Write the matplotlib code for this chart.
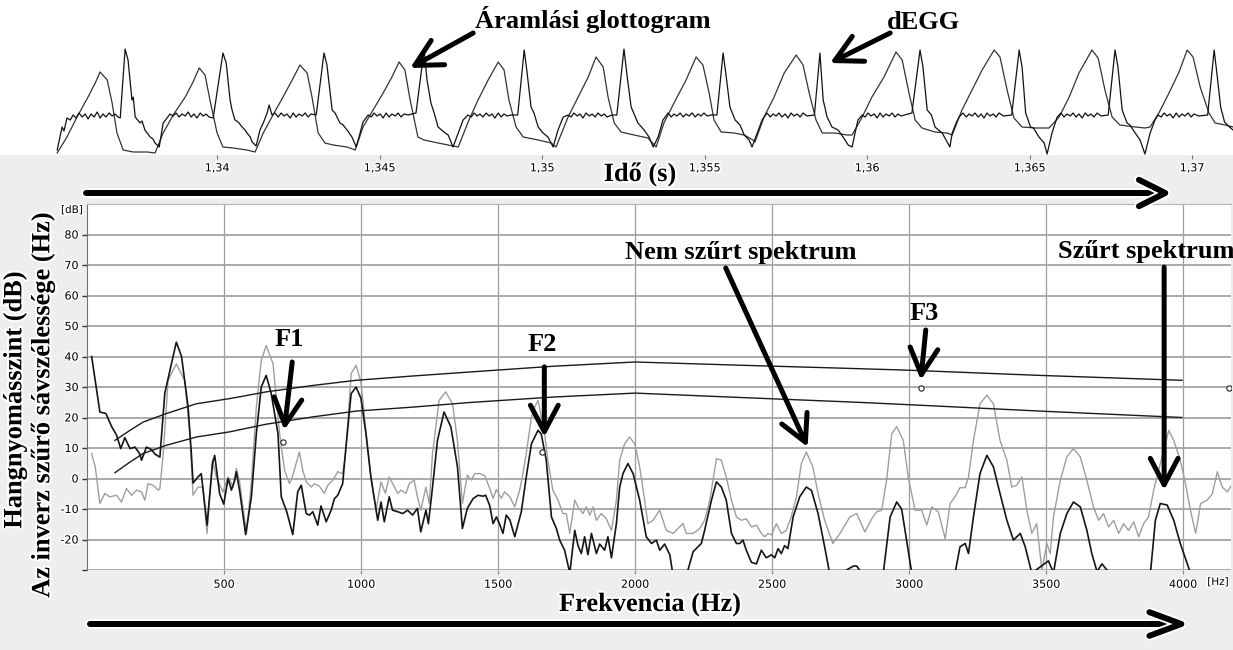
import numpy as np
import matplotlib
matplotlib.use("Agg")
import matplotlib.pyplot as plt
import matplotlib.patheffects as pe
from matplotlib.patches import FancyArrowPatch

# ---- top panel: glottal flow and dEGG (time in ms, amplitude arbitrary) ----
glotto = [
    (1335.08, 2), (1335.38, 18), (1335.69, 38), (1336.03, 58), (1336.25, 72), (1336.40, 83), (1336.62, 75),
    (1336.77, 52), (1336.92, 22), (1337.11, 5), (1337.42, 3), (1337.85, 3), (1338.09, 2),
    (1338.34, 22), (1338.65, 40), (1339.02, 58), (1339.26, 73), (1339.45, 87), (1339.63, 80), (1339.78, 55),
    (1340.00, 22), (1340.18, 8), (1340.49, 7), (1340.92, 5), (1341.17, 3),
    (1341.42, 22), (1341.72, 40), (1342.03, 58), (1342.31, 75), (1342.55, 90), (1342.77, 82), (1342.92, 58),
    (1343.11, 22), (1343.32, 12), (1343.57, 10), (1344.00, 8), (1344.25, 5),
    (1344.49, 28), (1344.80, 45), (1345.11, 62), (1345.38, 78), (1345.60, 93), (1345.78, 85), (1345.94, 55),
    (1346.18, 18), (1346.37, 15), (1346.80, 12), (1347.11, 10), (1347.42, 8),
    (1347.75, 35), (1348.03, 55), (1348.34, 75), (1348.65, 93), (1348.83, 85), (1348.98, 55), (1349.20, 28),
    (1349.42, 18), (1349.88, 15), (1350.28, 12), (1350.43, 8),
    (1350.80, 38), (1351.11, 58), (1351.42, 78), (1351.66, 98), (1351.88, 88), (1352.03, 58), (1352.22, 32),
    (1352.43, 23), (1352.83, 20), (1353.26, 17), (1353.51, 8),
    (1353.75, 32), (1354.06, 52), (1354.43, 75), (1354.74, 98), (1354.95, 90), (1355.14, 62), (1355.29, 35),
    (1355.51, 23), (1355.91, 22), (1356.22, 20), (1356.49, 15), (1356.55, 13),
    (1356.83, 38), (1357.14, 58), (1357.45, 82), (1357.82, 100), (1358.03, 90), (1358.22, 62), (1358.43, 35),
    (1358.62, 22), (1359.02, 22), (1359.38, 20), (1359.54, 20),
    (1359.85, 38), (1360.15, 58), (1360.52, 78), (1360.89, 103), (1361.08, 95), (1361.29, 62), (1361.48, 35),
    (1361.69, 27), (1362.09, 23), (1362.46, 22), (1362.62, 20),
    (1362.92, 45), (1363.23, 65), (1363.54, 85), (1363.91, 105), (1364.09, 98), (1364.31, 65), (1364.52, 37),
    (1364.77, 28), (1365.17, 27), (1365.60, 27),
    (1365.91, 38), (1366.22, 58), (1366.52, 82), (1366.92, 105), (1367.11, 97), (1367.32, 65), (1367.54, 38),
    (1367.78, 30), (1368.25, 28), (1368.55, 27), (1368.71, 28),
    (1368.98, 42), (1369.29, 62), (1369.60, 83), (1369.85, 105), (1370.03, 98), (1370.25, 68), (1370.52, 42),
    (1370.71, 32), (1371.02, 30), (1371.26, 28),
]

degg = [
    (1335.08, 5), (1335.23, 28), (1335.29, 24), (1335.38, 37), (1335.48, 35), (1335.57, 40), (1335.66, 37),
    (1335.75, 42), (1335.85, 38), (1335.94, 41), (1336.03, 36), (1336.12, 41), (1336.22, 38), (1336.31, 43),
    (1336.40, 37), (1336.49, 41), (1336.58, 38), (1336.68, 42), (1336.77, 39), (1336.86, 41), (1336.95, 38),
    (1337.02, 37),
    (1337.17, 106), (1337.26, 95), (1337.38, 55), (1337.42, 58), (1337.48, 38), (1337.63, 32), (1337.69, 34),
    (1337.78, 25), (1337.94, 18), (1338.03, 16), (1338.09, 12), (1338.22, 8), (1338.34, 32), (1338.46, 37),
    (1338.55, 41), (1338.65, 39), (1338.74, 42), (1338.83, 38), (1338.92, 41), (1339.02, 39), (1339.11, 43),
    (1339.20, 38), (1339.29, 41), (1339.38, 37), (1339.48, 42), (1339.57, 39), (1339.66, 41), (1339.75, 38),
    (1339.88, 37),
    (1340.18, 102), (1340.28, 92), (1340.40, 55), (1340.46, 45), (1340.55, 35), (1340.65, 33), (1340.77, 28),
    (1340.86, 25), (1340.92, 22), (1341.02, 18), (1341.08, 13), (1341.20, 9), (1341.32, 25), (1341.42, 32),
    (1341.54, 42), (1341.60, 50), (1341.69, 40), (1341.78, 42), (1341.88, 38), (1341.97, 42), (1342.06, 39),
    (1342.15, 41), (1342.25, 37), (1342.34, 42), (1342.43, 38), (1342.52, 41), (1342.62, 39), (1342.71, 42),
    (1342.80, 38), (1342.89, 41), (1343.05, 40),
    (1343.29, 102), (1343.38, 90), (1343.54, 45), (1343.63, 42), (1343.78, 32), (1343.88, 30), (1344.00, 25),
    (1344.15, 18), (1344.28, 8), (1344.40, 22), (1344.49, 33), (1344.65, 40), (1344.74, 38), (1344.83, 42),
    (1344.92, 39), (1345.02, 41), (1345.11, 37), (1345.20, 42), (1345.29, 38), (1345.38, 41), (1345.48, 39),
    (1345.57, 42), (1345.66, 38), (1345.75, 41), (1345.88, 40), (1346.12, 42),
    (1346.37, 105), (1346.46, 75), (1346.58, 52), (1346.68, 42), (1346.80, 28), (1347.02, 22), (1347.11, 20),
    (1347.26, 8), (1347.42, 22), (1347.57, 35), (1347.72, 40), (1347.82, 38), (1347.91, 42), (1348.00, 39),
    (1348.09, 41), (1348.18, 38), (1348.28, 42), (1348.37, 39), (1348.46, 41), (1348.55, 37), (1348.65, 42),
    (1348.74, 38), (1348.83, 41), (1348.92, 39), (1349.05, 40), (1349.25, 40),
    (1349.45, 105), (1349.54, 82), (1349.66, 48), (1349.75, 42), (1349.88, 28), (1350.03, 22), (1350.18, 18),
    (1350.34, 8), (1350.49, 25), (1350.65, 38), (1350.80, 40), (1350.89, 38), (1350.98, 42), (1351.08, 39),
    (1351.17, 41), (1351.26, 37), (1351.35, 42), (1351.45, 39), (1351.54, 41), (1351.63, 38), (1351.72, 42),
    (1351.82, 39), (1351.91, 41), (1352.00, 38), (1352.15, 40), (1352.30, 40),
    (1352.52, 106), (1352.62, 78), (1352.74, 48), (1352.95, 32), (1353.14, 25), (1353.29, 18), (1353.42, 8),
    (1353.57, 18), (1353.72, 35), (1353.88, 42), (1353.97, 38), (1354.06, 41), (1354.15, 39), (1354.25, 42),
    (1354.34, 38), (1354.43, 41), (1354.52, 39), (1354.62, 42), (1354.71, 38), (1354.80, 41), (1354.89, 39),
    (1354.98, 42), (1355.08, 39), (1355.20, 40), (1355.38, 40),
    (1355.57, 102), (1355.66, 80), (1355.78, 48), (1355.94, 35), (1356.09, 30), (1356.22, 20), (1356.37, 15),
    (1356.46, 8), (1356.62, 22), (1356.77, 35), (1356.92, 42), (1357.02, 38), (1357.11, 41), (1357.20, 39),
    (1357.29, 42), (1357.38, 38), (1357.48, 41), (1357.57, 37), (1357.66, 42), (1357.75, 39), (1357.85, 41),
    (1357.94, 38), (1358.03, 42), (1358.15, 39), (1358.38, 40),
    (1358.55, 102), (1358.65, 55), (1358.77, 38), (1358.92, 28), (1359.11, 25), (1359.26, 18), (1359.42, 10),
    (1359.54, 8), (1359.63, 22), (1359.72, 35), (1359.85, 40), (1359.94, 38), (1360.03, 42), (1360.12, 39),
    (1360.22, 41), (1360.31, 37), (1360.40, 42), (1360.49, 38), (1360.58, 41), (1360.68, 39), (1360.77, 42),
    (1360.86, 38), (1360.95, 41), (1361.05, 39), (1361.15, 40), (1361.38, 42),
    (1361.63, 105), (1361.72, 88), (1361.85, 45), (1361.98, 40), (1362.09, 28), (1362.31, 22), (1362.43, 15),
    (1362.55, 8), (1362.62, 22), (1362.74, 32), (1362.83, 38), (1362.95, 42), (1363.05, 38), (1363.14, 41),
    (1363.23, 39), (1363.32, 42), (1363.42, 38), (1363.51, 41), (1363.60, 37), (1363.69, 42), (1363.78, 39),
    (1363.88, 41), (1363.97, 38), (1364.06, 42), (1364.20, 39), (1364.45, 40),
    (1364.68, 105), (1364.77, 88), (1364.88, 42), (1365.03, 28), (1365.12, 27), (1365.29, 18), (1365.45, 12),
    (1365.54, 1), (1365.69, 22), (1365.85, 38), (1365.97, 42), (1366.06, 38), (1366.15, 41), (1366.25, 39),
    (1366.34, 42), (1366.43, 38), (1366.52, 41), (1366.62, 37), (1366.71, 42), (1366.80, 39), (1366.89, 41),
    (1366.98, 38), (1367.08, 42), (1367.20, 39), (1367.42, 40),
    (1367.63, 105), (1367.72, 88), (1367.85, 45), (1368.00, 32), (1368.09, 30), (1368.25, 22), (1368.40, 15),
    (1368.55, 1), (1368.71, 22), (1368.86, 35), (1368.95, 40), (1369.05, 38), (1369.14, 42), (1369.23, 39),
    (1369.32, 41), (1369.42, 37), (1369.51, 42), (1369.60, 38), (1369.69, 41), (1369.78, 39), (1369.88, 42),
    (1369.97, 38), (1370.06, 41), (1370.20, 39), (1370.48, 40),
    (1370.68, 105), (1370.77, 80), (1370.88, 48), (1371.00, 33), (1371.15, 28), (1371.26, 25),
]

time_ticks = [1.34, 1.345, 1.35, 1.355, 1.36, 1.365, 1.37]
time_labels = ["1,34", "1,345", "1,35", "1,355", "1,36", "1,365", "1,37"]

# ---- bottom panel: spectra (Hz, dB) ----
filtered = [
    (17, 40), (47, 21.8), (69, 21.3), (90, 17), (108, 14.2), (123, 9.8), (138, 13.4), (157, 9.8), (175, 10.3),
    (193, 8), (199, 6), (217, 10.3), (235, 9.5), (248, 8), (266, 7), (284, 28), (326, 44.7), (345, 40),
    (369, 23.4), (381, 8), (387, -1.5), (405, 0.5), (417, 1.6), (438, -15.3), (458, 4.9), (466, 7.6),
    (484, -5), (499, -8.4), (515, 0), (527, -3.8), (539, -0.6), (545, 2.2), (557, -4), (579, -18.4),
    (600, -6), (618, 14.7), (636, 30), (654, 33.8), (672, 28), (697, 14.7), (709, -6), (729, -10.9),
    (751, -18.4), (769, -4.4), (782, -2.2), (800, -11.5), (812, -12), (824, -10.9), (842, -15.3), (854, -9),
    (873, -14.2), (891, -10.4), (903, -6.6), (915, -5.5), (933, -1.7), (945, 10.3), (964, 27.8), (982, 30),
    (1000, 26.2), (1018, 14.7), (1036, 0.5), (1061, -13.7), (1073, -7.7), (1085, -14.2), (1103, -6),
    (1115, -10.4), (1134, -10.9), (1152, -11.5), (1170, -10.4), (1188, -12), (1206, -9.8), (1218, -17.5),
    (1237, -10.4), (1246, -14.8), (1261, -2.8), (1279, 12.5), (1303, 21.8), (1328, 16.9), (1352, 3.8),
    (1370, -16.4), (1388, -9.8), (1409, -6.6), (1427, -5.5), (1445, -5.8), (1455, -5.5), (1470, -9),
    (1482, -14.8), (1494, -12.6), (1506, -15), (1518, -18), (1530, -12), (1543, -13.5), (1561, -19.1),
    (1573, -15), (1585, -10.9), (1603, 0.5), (1622, 11.4), (1646, 15.8), (1658, 14.5), (1676, 6),
    (1695, -12.6), (1713, -16.4), (1725, -20.2), (1743, -23.5), (1762, -31), (1780, -17), (1792, -22),
    (1804, -24.6), (1816, -19.1), (1828, -25), (1841, -18), (1859, -24.6), (1871, -21.5), (1889, -23.5),
    (1901, -19.1), (1914, -26), (1932, -14.8), (1944, -2.8), (1956, 1.6), (1974, 4.9), (1993, 1.6),
    (2017, -7.1), (2041, -19.1), (2060, -21.3), (2078, -20.2), (2090, -23.5), (2108, -21.5), (2127, -25),
    (2139, -32), (2187, -32), (2212, -24), (2242, -21.3), (2254, -17), (2279, -7.1), (2297, -1.1),
    (2315, -2.8), (2333, -7.1), (2352, -18), (2370, -21.3), (2382, -21.3), (2394, -20.2), (2406, -23.5),
    (2425, -27.5), (2443, -28), (2461, -23.5), (2479, -26), (2498, -25), (2510, -26), (2522, -23),
    (2534, -24.6), (2546, -22), (2558, -23), (2577, -12.6), (2601, -6), (2625, -2.8), (2644, -3.9),
    (2668, -11.5), (2692, -22.4), (2710, -31), (2748, -33), (2772, -30), (2797, -28.7), (2809, -28.7),
    (2827, -31), (2906, -31), (2931, -12.6), (2955, -7.7), (2973, -10), (2991, -20.2), (3010, -31),
    (3168, -31), (3186, -22.4), (3205, -21.3), (3217, -24.6), (3235, -12.6), (3259, 1.6), (3284, 7.6),
    (3308, 3.8), (3332, -4.9), (3357, -13.7), (3381, -20.2), (3406, -18), (3424, -22.4), (3448, -31),
    (3509, -27), (3527, -31), (3552, -18), (3576, -11.5), (3600, -7.7), (3625, -9.3), (3649, -17),
    (3667, -24.6), (3686, -30.5), (3704, -28), (3722, -30), (3747, -31), (3881, -31), (3899, -13.7),
    (3917, -8.2), (3942, -8.7), (3966, -13.7), (3990, -21.3), (4015, -27.9), (4027, -31), (4175, -33),
]

unfiltered = [
    (17, 8.2), (30, 3.8), (47, -8.2), (65, -4.9), (83, -6), (108, -5.5), (126, -7.7), (144, -3.3),
    (163, -5.5), (181, -3.8), (199, -4.4), (211, -7.1), (223, -1.7), (241, -2.2), (260, -3.8), (266, -3.3),
    (278, 8), (296, 32.2), (326, 37.6), (357, 32), (375, 14.7), (387, -5.5), (405, -2.8), (423, -2.8),
    (438, -18), (458, 6), (472, 0.5), (496, -4.4), (515, 0.5), (533, -2.8), (545, 3.3), (557, -1),
    (582, -18), (600, -1), (618, 23.4), (636, 38.7), (654, 43.6), (679, 37.6), (703, 14.7), (721, 2.7),
    (739, -1.7), (751, 1), (763, 4.9), (775, 8.7), (788, 2.5), (800, -1.1), (818, -2.8), (830, -1.7),
    (848, -2.5), (866, -4.9), (879, -2.2), (897, -0.6), (915, 2.2), (933, 1.6), (945, 9.3), (964, 34.4),
    (982, 37.1), (1000, 31.6), (1018, 15.8), (1036, 0.5), (1055, -10.4), (1073, -1.1), (1089, -4.9),
    (1103, 0.5), (1122, -2.8), (1134, -4.9), (1146, -3.8), (1164, -4.9), (1176, -1.7), (1194, -0.6),
    (1206, -6), (1218, -10.4), (1237, -2.8), (1249, -8.2), (1261, 8.2), (1285, 25.6), (1309, 28.4),
    (1334, 24.5), (1352, 12.5), (1370, -8.2), (1388, 1.1), (1403, -0.5), (1415, 1.6), (1433, 1.6),
    (1451, 1), (1470, -3.3), (1482, -6.5), (1494, -3.6), (1512, -6.5), (1524, -4.4), (1543, -6),
    (1561, -9.3), (1579, -3.8), (1591, 1.6), (1603, 8.2), (1622, 20.2), (1634, 23.4), (1646, 25.6),
    (1658, 20.2), (1670, 14.7), (1682, 6), (1700, -3.8), (1719, -7.1), (1737, -11.5), (1749, -11.5),
    (1762, -18), (1780, -7.1), (1792, -9.3), (1810, -11.5), (1822, -9.3), (1835, -12), (1847, -9.3),
    (1859, -13.7), (1877, -11.5), (1895, -13.2), (1914, -17), (1932, -7.1), (1944, 6), (1962, 11.4),
    (1980, 13.6), (1999, 11.4), (2017, 3.8), (2035, -7.1), (2047, -14.8), (2066, -13.7), (2090, -10.4),
    (2114, -17), (2139, -18), (2157, -16.4), (2175, -14.8), (2187, -18), (2212, -18), (2236, -16.4),
    (2254, -13.7), (2273, -7.1), (2297, 6.5), (2315, 6), (2333, 0.5), (2352, -7.1), (2370, -12.6),
    (2388, -13.7), (2406, -13.2), (2425, -15.9), (2443, -15.3), (2461, -18), (2473, -19.1), (2486, -18),
    (2498, -18.5), (2516, -14.8), (2534, -18), (2552, -17), (2570, -12.6), (2589, -6), (2607, 4.9),
    (2625, 8.7), (2649, 3.8), (2668, -4.9), (2692, -13.7), (2722, -21.3), (2748, -18), (2766, -15.3),
    (2784, -12.6), (2809, -11.5), (2839, -17.5), (2864, -13.2), (2882, -10.9), (2900, -10.4), (2918, -0.6),
    (2937, 14.7), (2955, 17), (2979, 12.5), (2997, 0.5), (3022, -10.4), (3046, -10.4), (3065, -15.3),
    (3083, -9.3), (3107, -11), (3132, -19.7), (3150, -8.2), (3168, -6), (3186, -3), (3205, -3),
    (3217, 0.5), (3235, 12.5), (3259, 24.5), (3284, 27.3), (3308, 24.5), (3332, 12.5), (3357, 6),
    (3375, -2.8), (3393, -2.2), (3412, 0.5), (3430, -10.4), (3448, -18), (3466, -14.8), (3485, -30),
    (3503, -21.3), (3515, -24.6), (3527, -12.6), (3552, -0.6), (3576, 7.1), (3600, 9.8), (3625, 7.1),
    (3649, -0.6), (3673, -9.3), (3692, -13.7), (3710, -11.5), (3728, -15.9), (3747, -13.7), (3765, -18),
    (3783, -14.8), (3801, -17), (3820, -14.2), (3838, -19.1), (3856, -14.8), (3874, -12.6), (3893, -3.8),
    (3917, 4.9), (3948, 15.8), (3966, 12.5), (3990, 6), (4009, -1.7), (4027, -10.4), (4046, -18),
    (4064, -8.2), (4088, -7.1), (4107, -5), (4125, 2.2), (4143, -2.8), (4162, -4.4), (4180, -1.7),
]

# inverse filter bandwidth curves
bw_freq = [102, 157, 205, 290, 399, 521, 654, 824, 982, 1188, 1394, 1700, 2000, 2400, 2783, 3000, 3479, 3996]
bw_upper = [12.5, 15.8, 18.5, 21.3, 24.5, 26.2, 28.4, 30.5, 32.2, 33.6, 34.9, 36.8, 38.2, 37.1, 36.1, 35.5, 33.8, 32.2]
bw_lower = [1.9, 5.4, 8.2, 10.9, 13.6, 15.3, 17.8, 20.2, 22.1, 23.4, 24.9, 26.7, 28.0, 26.5, 25.1, 24.2, 22.1, 20.0]

# formant markers (Hz, dB)
formant_hz = [716, 1662, 3043, 4168]
formant_db = [12.0, 8.7, 29.7, 29.7]

freq_ticks = [500, 1000, 1500, 2000, 2500, 3000, 3500, 4000]
db_ticks = [-30, -20, -10, 0, 10, 20, 30, 40, 50, 60, 70, 80]

W, H = 1233, 650
BG = "#eeeeee"
halo = [pe.withStroke(linewidth=3, foreground="white")]
small_halo = [pe.withStroke(linewidth=2.2, foreground="white")]
bold = dict(family="Liberation Serif", fontweight="bold", fontsize=19)

fig = plt.figure(figsize=(W / 100, H / 100), dpi=100, facecolor=BG)

# ---------- top: waveforms ----------
ax1 = fig.add_axes([0, 1 - 155 / H, 1, 155 / H], facecolor="white")
g = np.array(glotto)
d = np.array(degg)
ax1.plot(g[:, 0] / 1000, g[:, 1], color="#333333", lw=0.9)
ax1.plot(d[:, 0] / 1000, d[:, 1], color="#111111", lw=0.9)
ax1.set_xlim(1.33332, 1.37126)
ax1.set_ylim(0, 155)
for s in ax1.spines.values():
    s.set_visible(False)
ax1.set_yticks([])
ax1.set_xticks(time_ticks)
ax1.set_xticklabels(time_labels)
ax1.tick_params(axis="x", direction="out", length=3, width=0.8, color="#777777", pad=3,
                labelsize=8)
for lab in ax1.get_xticklabels():
    lab.set_path_effects(small_halo)

ax1.text(1.35157, 127, "Áramlási glottogram", ha="center", va="baseline", **bold)
ax1.text(1.36175, 126, "dEGG", ha="center", va="baseline", **bold)
top_arrow = dict(arrowstyle="->,head_length=1.9,head_width=1.0", lw=3.6, color="black",
                 shrinkA=0, shrinkB=0)
ax1.annotate("", xy=(1.34594, 87), xytext=(1.34788, 122), arrowprops=top_arrow, annotation_clip=False)
ax1.annotate("", xy=(1.35886, 92), xytext=(1.36071, 122), arrowprops=top_arrow, annotation_clip=False)

# ---------- bottom: spectra ----------
ax2 = fig.add_axes([87 / W, 1 - 570 / H, (1231 - 87) / W, (570 - 204) / H], facecolor="white")
ax2.set_axisbelow(True)
ax2.grid(True, axis="y", color="#a4a4a4", lw=1.3)
ax2.grid(True, axis="x", color="#9c9c9c", lw=0.9)
fu = np.array(unfiltered)
ff = np.array(filtered)
ax2.plot(fu[:, 0], fu[:, 1], color="#9e9e9e", lw=1.0)
ax2.plot(ff[:, 0], ff[:, 1], color="#151515", lw=1.2)
ax2.plot(bw_freq, bw_upper, color="#1a1a1a", lw=1.0)
ax2.plot(bw_freq, bw_lower, color="#1a1a1a", lw=1.0)
ax2.plot(formant_hz, formant_db, ls="none", marker="o", ms=3.8, mfc="white", mec="#222222", mew=0.8)
ax2.set_xlim(0, 4175)
ax2.set_ylim(-30, 90)
ax2.set_xticks(freq_ticks)
ax2.set_xticklabels([str(f) for f in freq_ticks])
ax2.set_yticks(db_ticks)
ax2.set_yticklabels([""] + [str(v) for v in db_ticks[1:]])
ax2.tick_params(axis="x", direction="out", length=3, width=0.8, color="#888888", pad=4, labelsize=8)
ax2.tick_params(axis="y", direction="out", length=3.6, width=1.0, color="#333333", pad=2.5, labelsize=8)
for lab in ax2.get_xticklabels() + ax2.get_yticklabels():
    lab.set_path_effects(small_halo)
ax2.spines["left"].set_color("#707070")
ax2.spines["top"].set_color("#b4b4b4")
ax2.spines["right"].set_visible(False)
ax2.spines["bottom"].set_visible(False)

spec_arrow = dict(arrowstyle="->,head_length=1.9,head_width=1.0", lw=3.6, color="black",
                  shrinkA=0, shrinkB=0)
ax2.text(738, 43.4, "F1", ha="center", va="baseline", **bold)
ax2.annotate("", xy=(720, 15.9), xytext=(749, 38.2), arrowprops=spec_arrow)
ax2.text(1662, 41.8, "F2", ha="center", va="baseline", **bold)
ax2.annotate("", xy=(1669, 13.6), xytext=(1669, 36.6), arrowprops=spec_arrow)
ax2.text(3054, 52.0, "F3", ha="center", va="baseline", **bold)
ax2.annotate("", xy=(3043, 32.3), xytext=(3061, 48.7), arrowprops=spec_arrow)
ax2.text(2385, 72.0, "Nem szűrt spektrum", ha="center", va="baseline", **bold)
ax2.annotate("", xy=(2630, 10.3), xytext=(2331, 69.0), arrowprops=spec_arrow)
ax2.text(3865, 72.3, "Szűrt spektrum", ha="center", va="baseline", clip_on=False, **bold)
ax2.annotate("", xy=(3931, -3.8), xytext=(3931, 69.3), arrowprops=spec_arrow)

# unit labels
fig.text(72 / W, 1 - 210 / H, "[dB]", ha="center", va="center", fontsize=7.5, path_effects=small_halo)
fig.text(1218 / W, 1 - 582 / H, "[Hz]", ha="center", va="center", fontsize=7.5, path_effects=small_halo)

# axis titles
fig.text(640 / W, 1 - 181 / H, "Idő (s)", ha="center", va="baseline", path_effects=halo, **bold)
fig.text(650 / W, 1 - 611 / H, "Frekvencia (Hz)", ha="center", va="baseline", path_effects=halo, **bold)
fig.text(15 / W, 1 - 400 / H, "Hangnyomásszint (dB)", rotation=90, ha="center", va="center",
         path_effects=halo, **bold)
fig.text(43 / W, 1 - 405 / H, "Az inverz szűrő sávszélessége (Hz)", rotation=90, ha="center",
         va="center", path_effects=halo, **bold)

# long axis arrows
for (x0, y0, x1, y1, hl, hw) in [(86, 193, 1172, 193, 1.9, 0.95), (90, 624, 1190, 624, 2.3, 0.85)]:
    arr = FancyArrowPatch((x0 / W, 1 - y0 / H), (x1 / W, 1 - y1 / H), transform=fig.transFigure,
                          arrowstyle="->,head_length=%s,head_width=%s" % (hl, hw), mutation_scale=10,
                          lw=4.3, color="black", shrinkA=0, shrinkB=0)
    arr.set_path_effects([pe.Stroke(linewidth=7, foreground="white"), pe.Normal()])
    fig.add_artist(arr)

fig.savefig("out.png", dpi=100, facecolor=BG)
